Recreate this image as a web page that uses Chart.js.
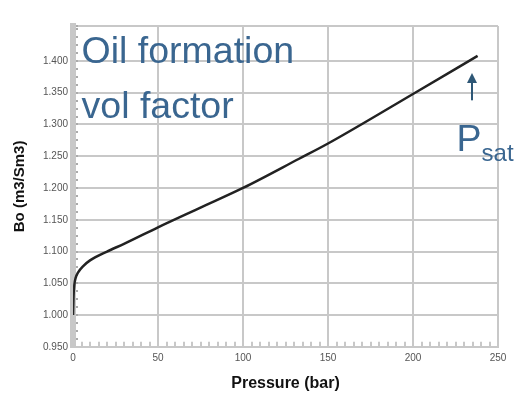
<!DOCTYPE html>
<html>
<head>
<meta charset="utf-8">
<script src="https://cdn.jsdelivr.net/npm/chart.js@4/dist/chart.umd.min.js"></script>
<style>
  html, body { margin: 0; padding: 0; background: #fff; }
  #wrap { width: 518px; height: 398px; }
</style>
</head>
<body>
<div id="wrap"><canvas id="bo" width="518" height="398"></canvas></div>
<script>
// pressure (bar) vs oil formation volume factor Bo (m3/Sm3)
const pressure = [0, 0.3, 0.8, 1.5, 3, 6, 10, 20, 30, 50, 75, 100, 133, 150, 200, 238];
const bo = [1.000, 1.030, 1.048, 1.058, 1.067, 1.077, 1.086, 1.100, 1.112, 1.138, 1.169, 1.200, 1.246, 1.270, 1.348, 1.408];

const xMajor = [0, 50, 100, 150, 200, 250];
const yMajor = [0.95, 1.00, 1.05, 1.10, 1.15, 1.20, 1.25, 1.30, 1.35, 1.40];
const xMinorStep = 5;
const yMinorStep = 0.0125;
const xMax = 250, yMin = 0.95, yMax = 1.455;

const titleLines = ['Oil formation', 'vol factor'];
const psatLabel = 'P', psatSub = 'sat';

const GRID = '#c8c8c8';
const TEXT_BLUE = '#3a6690';

function isMajor(list, v) {
  return list.some(m => Math.abs(m - v) < 1e-6);
}

function minorTicks(lo, hi, step) {
  const out = [];
  for (let i = 0; lo + i * step <= hi + 1e-9; i++) out.push(+(lo + i * step).toFixed(4));
  return out;
}

const notes = {
  id: 'notes',
  afterDraw(chart) {
    const { ctx, scales: { x, y } } = chart;
    ctx.save();
    ctx.fillStyle = TEXT_BLUE;
    ctx.textBaseline = 'alphabetic';
    ctx.font = '37.5px "Liberation Sans", Arial, sans-serif';
    ctx.fillText(titleLines[0], x.getPixelForValue(5.0), y.getPixelForValue(1.396));
    ctx.fillText(titleLines[1], x.getPixelForValue(5.0), y.getPixelForValue(1.310));

    // P_sat with the little arrow pointing up at the end of the curve
    const px = x.getPixelForValue(225.6), py = y.getPixelForValue(1.259);
    ctx.fillText(psatLabel, px, py);
    const pw = ctx.measureText(psatLabel).width;
    ctx.font = '24px "Liberation Sans", Arial, sans-serif';
    ctx.fillText(psatSub, px + pw, py + 10);

    const ax = x.getPixelForValue(234.7);
    const top = y.getPixelForValue(1.381), bot = y.getPixelForValue(1.338);
    ctx.strokeStyle = '#2e5776';
    ctx.fillStyle = '#2e5776';
    ctx.lineWidth = 2;
    ctx.beginPath();
    ctx.moveTo(ax, bot);
    ctx.lineTo(ax, top + 8);
    ctx.stroke();
    ctx.beginPath();
    ctx.moveTo(ax, top);
    ctx.lineTo(ax - 5, top + 10);
    ctx.lineTo(ax + 5, top + 10);
    ctx.closePath();
    ctx.fill();
    ctx.restore();
  }
};

new Chart(document.getElementById('bo'), {
  type: 'scatter',
  data: {
    datasets: [{
      data: pressure.map((p, i) => ({ x: p, y: bo[i] })),
      showLine: true,
      borderColor: '#222',
      borderWidth: 2.5,
      pointRadius: 0,
      cubicInterpolationMode: 'monotone'
    }]
  },
  options: {
    responsive: false,
    animation: false,
    layout: { padding: { top: 26, right: 20, left: 11, bottom: 5 } },
    plugins: { legend: { display: false }, tooltip: { enabled: false } },
    scales: {
      x: {
        type: 'linear',
        min: 0, max: xMax,
        afterBuildTicks: s => { s.ticks = minorTicks(0, xMax, xMinorStep).map(v => ({ value: v })); },
        ticks: {
          autoSkip: false, maxRotation: 0, padding: 10,
          color: '#555', font: { size: 10, family: 'Liberation Sans' },
          callback: v => isMajor(xMajor, v) ? String(v) : ''
        },
        grid: {
          color: c => (c.tick && isMajor(xMajor, c.tick.value)) ? GRID : 'rgba(0,0,0,0)',
          lineWidth: 2,
          tickColor: GRID,
          tickLength: -5
        },
        border: { color: GRID, width: 2 },
        title: {
          display: true, text: 'Pressure (bar)', color: '#111',
          font: { size: 16, weight: 'bold', family: 'Liberation Sans' },
          padding: { top: 0, bottom: 0 }
        }
      },
      y: {
        type: 'linear',
        min: yMin, max: yMax,
        afterBuildTicks: s => {
          const t = minorTicks(yMin, 1.45, yMinorStep);
          t.push(yMax);
          s.ticks = t.map(v => ({ value: v }));
        },
        ticks: {
          autoSkip: false, padding: 10,
          color: '#555', font: { size: 10, family: 'Liberation Sans' },
          callback: v => isMajor(yMajor, v) ? v.toFixed(3) : ''
        },
        grid: {
          color: c => (c.tick && (isMajor(yMajor, c.tick.value) || c.tick.value === yMax)) ? GRID : 'rgba(0,0,0,0)',
          lineWidth: 2,
          tickColor: '#aaa',
          tickLength: -5
        },
        border: { color: GRID, width: 6 },
        title: {
          display: true, text: 'Bo (m3/Sm3)', color: '#111',
          font: { size: 15, weight: 'bold', family: 'Liberation Sans' },
          padding: { top: 0, bottom: 4 }
        }
      }
    }
  },
  plugins: [notes]
});
</script>
</body>
</html>
